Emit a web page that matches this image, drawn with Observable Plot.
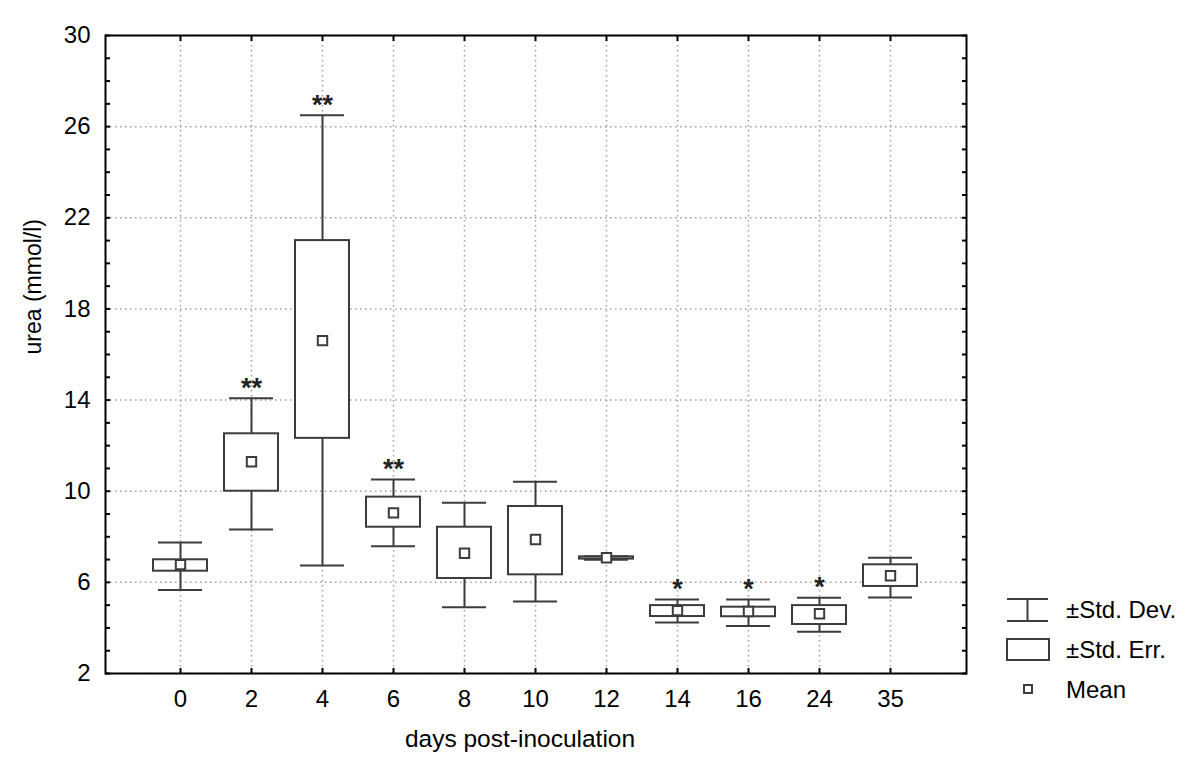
<!DOCTYPE html>
<html><head><meta charset="utf-8">
<script src="https://cdn.jsdelivr.net/npm/d3@7"></script>
<script src="https://cdn.jsdelivr.net/npm/@observablehq/plot@0.6"></script>
<style>
body{margin:0;background:#fff;}
#wrap{position:relative;width:1200px;height:775px;font-family:"Liberation Sans",Arial,sans-serif;}
#legend{position:absolute;left:0;top:0;}
</style></head><body><div id="wrap"></div>
<script>
const days   = ["0","2","4","6","8","10","12","14","16","24","35"];
const means  = [6.78, 11.29, 16.61, 9.05, 7.28, 7.88, 7.08, 4.76, 4.72, 4.62, 6.29];
const seLow  = [6.49, 10.00, 12.32, 8.42, 6.17, 6.33, 7.02, 4.50, 4.49, 4.15, 5.82];
const seHigh = [6.99, 12.52, 21.00, 9.74, 8.42, 9.33, 7.12, 4.98, 4.91, 4.98, 6.77];
const sdLow  = [5.67, 8.32, 6.74, 7.59, 4.91, 5.16, 6.99, 4.24, 4.08, 3.83, 5.33];
const sdHigh = [7.75, 14.08, 26.50, 10.51, 9.49, 10.42, 7.15, 5.25, 5.25, 5.32, 7.08];
const signif = ["", "**", "**", "**", "", "", "", "*", "*", "*", ""];
const yTickLabels = [2, 6, 10, 14, 18, 22, 26, 30];
const yMinorTicks = [2,3,4,5,6,7,8,9,10,11,12,13,14,15,16,17,18,19,20,21,22,23,24,25,26,27,28,29,30];
const xTitle = "days post-inoculation";
const yTitle = "urea (mmol/l)";
const legendItems = ["±Std. Dev.", "±Std. Err.", "Mean"];

const data = days.map((d, i) => ({
  day: d, mean: means[i], seLo: seLow[i], seHi: seHigh[i],
  sdLo: sdLow[i], sdHi: sdHigh[i], sig: signif[i]
}));

const ink = "#3c3c3c";
const font = "'Liberation Sans', Arial, sans-serif";

const plot = Plot.plot({
  width: 1200, height: 775,
  marginLeft: 105, marginRight: 234, marginTop: 35, marginBottom: 102,
  style: {fontFamily: font, fontSize: "24px", background: "white", color: "#000", overflow: "visible"},
  x: {type: "band", domain: days, paddingInner: 0.2334, paddingOuter: 0.6167, label: null},
  y: {domain: [2, 30], label: null},
  marks: [
    Plot.gridY(yTickLabels, {stroke: "#a0a0a0", strokeOpacity: 1, strokeWidth: 1.5, strokeDasharray: "1.5,3.5"}),
    Plot.gridX(days, {stroke: "#a0a0a0", strokeOpacity: 1, strokeWidth: 1.5, strokeDasharray: "1.5,3.5"}),
    Plot.axisY(yMinorTicks, {anchor: "left", tickSize: -5, tickFormat: () => "", stroke: "#000", strokeWidth: 2, label: null}),
    Plot.axisY(yMinorTicks, {anchor: "right", tickSize: -5, tickFormat: () => "", stroke: "#000", strokeWidth: 2, label: null}),
    Plot.axisY(yTickLabels, {anchor: "left", tickSize: 0, tickPadding: 15, fontSize: 24, fill: "#000", label: null}),
    Plot.axisX(days, {anchor: "bottom", tickSize: -5, tickFormat: () => "", stroke: "#000", strokeWidth: 2, label: null}),
    Plot.axisX(days, {anchor: "top", tickSize: -5, tickFormat: () => "", stroke: "#000", strokeWidth: 2, label: null}),
    Plot.axisX(days, {anchor: "bottom", tickSize: 0, tickPadding: 16, fontSize: 24, fill: "#000", label: null}),
    Plot.ruleX(data, {x: "day", y1: "sdLo", y2: "sdHi", stroke: ink, strokeWidth: 2}),
    Plot.tickY(data, {x: "day", y: "sdHi", stroke: ink, strokeWidth: 2, insetLeft: 5, insetRight: 5}),
    Plot.tickY(data, {x: "day", y: "sdLo", stroke: ink, strokeWidth: 2, insetLeft: 5, insetRight: 5}),
    Plot.barY(data, {x: "day", y1: "seLo", y2: "seHi", fill: "white", stroke: ink, strokeWidth: 2}),
    Plot.dot(data, {x: "day", y: "mean", symbol: "square", r: 5.3, fill: "white", stroke: ink, strokeWidth: 2}),
    Plot.text(data, {x: "day", y: "sdHi", text: "sig", dy: -10, fontSize: 27, fontWeight: "bold", fill: "#222"}),
    Plot.frame({stroke: "#000", strokeWidth: 2}),
    Plot.text([yTitle], {frameAnchor: "left", dx: -72, rotate: -90, text: d => d, fontSize: 23, fill: "#000"}),
    Plot.text([xTitle], {frameAnchor: "bottom", dy: 73, dx: -16, text: d => d, fontSize: 24.5, fill: "#000"})
  ]
});
const wrap = document.getElementById("wrap");
wrap.appendChild(plot);

// legend
const svg = d3.select(wrap).append("svg").attr("id", "legend")
  .attr("width", 1200).attr("height", 775)
  .style("position", "absolute").style("left", 0).style("top", 0)
  .style("font-family", font).style("font-size", "24px");
const g = svg.append("g").attr("stroke", ink).attr("stroke-width", 2).attr("fill", "none");
// std dev icon
g.append("line").attr("x1", 1007).attr("x2", 1048).attr("y1", 599).attr("y2", 599);
g.append("line").attr("x1", 1007).attr("x2", 1048).attr("y1", 621).attr("y2", 621);
g.append("line").attr("x1", 1027.5).attr("x2", 1027.5).attr("y1", 599).attr("y2", 621);
// std err icon
g.append("rect").attr("x", 1007).attr("y", 639).attr("width", 42).attr("height", 21).attr("fill", "white");
// mean icon
g.append("rect").attr("x", 1024).attr("y", 685).attr("width", 8).attr("height", 8).attr("fill", "white");
svg.selectAll("text.lg").data(legendItems).join("text")
  .attr("x", 1066).attr("y", (d, i) => 610 + i * 40).attr("dy", "0.35em")
  .attr("fill", "#000").text(d => d);
</script></body></html>
